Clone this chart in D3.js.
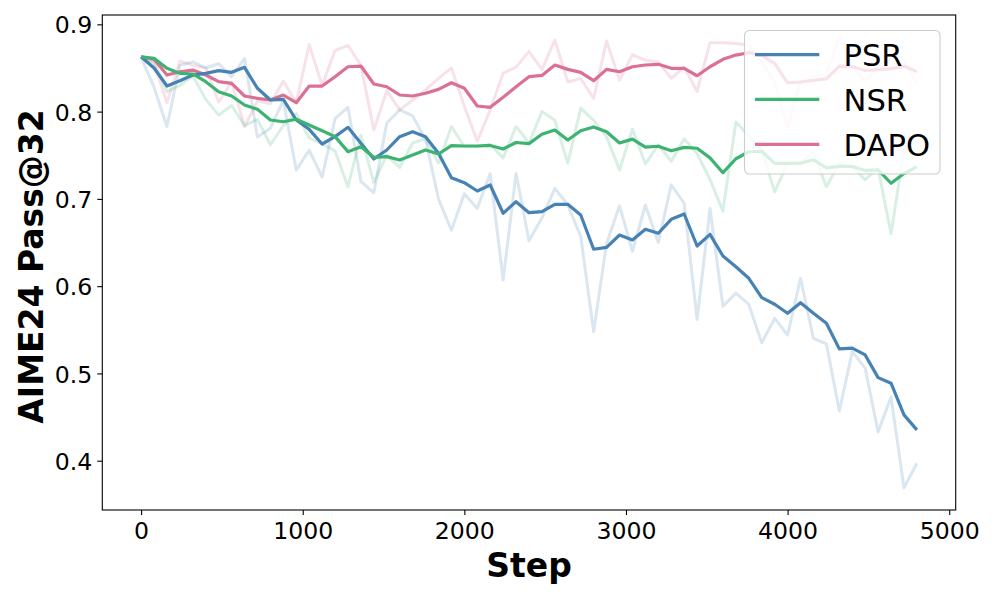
<!DOCTYPE html>
<html>
<head>
<meta charset="utf-8">
<script src="https://cdn.jsdelivr.net/npm/d3@7"></script>
<style>
  html, body { margin: 0; padding: 0; background: #fff; }
  svg { display: block; }
  text { font-family: "DejaVu Sans", sans-serif; }
</style>
</head>
<body>
<svg id="chart" width="996" height="598"></svg>
<script>
const steps = [0,80,160,240,320,400,480,560,640,720,800,880,960,1040,1120,1200,1280,1360,1440,1520,
  1600,1680,1760,1840,1920,2000,2080,2160,2240,2320,2400,2480,2560,2640,2720,2800,2880,2960,3040,3120,
  3200,3280,3360,3440,3520,3600,3680,3760,3840,3920,4000,4080,4160,4240,4320,4400,4480,4560,4640,4720,4800];

const psrRaw = [0.862,0.828,0.783,0.853,0.857,0.850,0.855,0.840,0.861,0.771,
  0.781,0.813,0.733,0.756,0.725,0.792,0.805,0.720,0.707,0.787,
  0.802,0.795,0.768,0.700,0.664,0.706,0.689,0.729,0.607,0.729,
  0.652,0.678,0.712,0.693,0.657,0.548,0.649,0.692,0.640,0.693,
  0.650,0.716,0.695,0.562,0.689,0.577,0.592,0.579,0.535,0.563,
  0.544,0.609,0.540,0.534,0.457,0.525,0.506,0.433,0.473,0.369,0.397];
const psrSmooth = [0.8629,0.8500,0.8293,0.8354,0.8419,0.8438,0.8469,0.8450,0.8507,0.8267,
  0.8133,0.8140,0.7904,0.7797,0.7629,0.7713,0.7820,0.7637,0.7457,0.7560,
  0.7713,0.7770,0.7713,0.7522,0.7243,0.7186,0.7090,0.7159,0.6835,0.6968,
  0.6842,0.6853,0.6938,0.6938,0.6815,0.6423,0.6445,0.6586,0.6529,0.6651,
  0.6606,0.6766,0.6827,0.6460,0.6594,0.6346,0.6223,0.6090,0.5869,0.5793,
  0.5689,0.5811,0.5689,0.5575,0.5281,0.5289,0.5212,0.4952,0.4888,0.4525,0.4353];

const nsrRaw = [0.862,0.857,0.823,0.830,0.841,0.814,0.796,0.807,0.784,0.791,
  0.762,0.784,0.798,0.770,0.763,0.755,0.714,0.773,0.719,0.750,
  0.736,0.764,0.769,0.741,0.783,0.760,0.760,0.762,0.747,0.783,
  0.764,0.800,0.790,0.741,0.804,0.790,0.771,0.733,0.780,0.740,
  0.762,0.743,0.769,0.752,0.722,0.686,0.788,0.772,0.756,0.708,
  0.741,0.741,0.754,0.714,0.741,0.737,0.722,0.735,0.660,0.756,0.765];
const nsrSmooth = [0.8629,0.8610,0.8496,0.8438,0.8431,0.8343,0.8228,0.8179,0.8076,0.8026,
  0.7904,0.7884,0.7912,0.7847,0.7781,0.7713,0.7541,0.7598,0.7476,0.7484,
  0.7446,0.7503,0.7560,0.7514,0.7610,0.7606,0.7606,0.7612,0.7572,0.7646,
  0.7633,0.7740,0.7789,0.7675,0.7781,0.7824,0.7770,0.7641,0.7685,0.7594,
  0.7603,0.7552,0.7590,0.7580,0.7470,0.7300,0.7460,0.7540,0.7546,0.7406,
  0.7407,0.7408,0.7448,0.7356,0.7372,0.7371,0.7326,0.7333,0.7179,0.7290,0.7370];

const dapoRaw = [0.862,0.855,0.810,0.858,0.853,0.850,0.811,0.834,0.783,0.812,
  0.809,0.835,0.810,0.877,0.830,0.870,0.876,0.853,0.779,0.824,
  0.802,0.813,0.825,0.838,0.850,0.806,0.766,0.802,0.844,0.851,
  0.869,0.848,0.882,0.834,0.838,0.815,0.881,0.836,0.865,0.859,
  0.857,0.838,0.851,0.823,0.879,0.879,0.878,0.876,0.857,0.834,
  0.781,0.836,0.840,0.842,0.886,0.851,0.836,0.850,0.851,0.859,0.832];
const dapoSmooth = [0.8629,0.8599,0.8419,0.8457,0.8476,0.8419,0.8343,0.8324,0.8179,0.8152,
  0.8133,0.8190,0.8102,0.8293,0.8293,0.8400,0.8514,0.8522,0.8316,0.8285,
  0.8190,0.8179,0.8210,0.8255,0.8331,0.8267,0.8064,0.8049,0.8164,0.8285,
  0.8400,0.8415,0.8534,0.8484,0.8450,0.8354,0.8484,0.8457,0.8514,0.8534,
  0.8542,0.8496,0.8496,0.8411,0.8514,0.8599,0.8648,0.8675,0.8644,0.8553,
  0.8330,0.8339,0.8357,0.8376,0.8521,0.8518,0.8471,0.8480,0.8489,0.8520,0.8460];

const seriesNames = ["PSR", "NSR", "DAPO"];
const seriesColors = ["#4682b4", "#3cb371", "#db7093"];
const xTicks = [0, 1000, 2000, 3000, 4000, 5000];
const yTicks = [0.4, 0.5, 0.6, 0.7, 0.8, 0.9];
const xLabel = "Step";
const yLabel = "AIME24 Pass@32";

const series = [
  { name: seriesNames[0], color: seriesColors[0], raw: psrRaw, smooth: psrSmooth },
  { name: seriesNames[1], color: seriesColors[1], raw: nsrRaw, smooth: nsrSmooth },
  { name: seriesNames[2], color: seriesColors[2], raw: dapoRaw, smooth: dapoSmooth }
];

const svg = d3.select("#chart");
svg.append("rect").attr("width", 996).attr("height", 598).attr("fill", "#fff");

const L = 102.3, R = 955.7, T = 15, B = 510;
const x = d3.scaleLinear().domain([-240, 5040]).range([L, R]);
const y = d3.scaleLinear().domain([0.3435, 0.9107]).range([B, T]);

const plot = svg.append("g");
const line = (vals) => d3.line().x((d, i) => x(steps[i])).y(d => y(d))(vals);

const drawOrder = [2, 0, 1];
drawOrder.forEach(k => {
  const s = series[k];
  plot.append("path").attr("d", line(s.raw)).attr("fill", "none")
    .attr("stroke", s.color).attr("stroke-opacity", 0.2).attr("stroke-width", 3)
    .attr("stroke-linejoin", "round").attr("stroke-linecap", "butt");
});
drawOrder.forEach(k => {
  const s = series[k];
  plot.append("path").attr("d", line(s.smooth)).attr("fill", "none")
    .attr("stroke", s.color).attr("stroke-width", 3.2)
    .attr("stroke-linejoin", "round").attr("stroke-linecap", "butt");
});

const tickFont = 23.6;
const xAxis = d3.axisBottom(x).tickValues(xTicks).tickFormat(d3.format("d")).tickSize(5).tickPadding(7);
const yAxis = d3.axisLeft(y).tickValues(yTicks).tickFormat(d3.format(".1f")).tickSize(5).tickPadding(5);

const gx = svg.append("g").attr("transform", `translate(0,${B})`).call(xAxis);
const gy = svg.append("g").attr("transform", `translate(${L},0)`).call(yAxis);
[gx, gy].forEach(g => {
  g.select(".domain").remove();
  g.selectAll(".tick line").attr("stroke", "#000").attr("stroke-width", 1.1);
  g.selectAll(".tick text").attr("font-size", tickFont).attr("fill", "#000")
    .attr("font-family", "DejaVu Sans");
});
gx.selectAll(".tick text").attr("dy", null).attr("y", 29.3);
gy.selectAll(".tick text").attr("dy", null).attr("y", 8.6);

svg.append("rect").attr("x", L).attr("y", T).attr("width", R - L).attr("height", B - T)
  .attr("fill", "none").attr("stroke", "#000").attr("stroke-width", 1.1);

svg.append("text").attr("x", (L + R) / 2).attr("y", 577).attr("text-anchor", "middle")
  .attr("font-size", 33).attr("font-weight", "bold").attr("fill", "#000").text(xLabel);
svg.append("text").attr("transform", `translate(43,${(T + B) / 2 + 4}) rotate(-90)`)
  .attr("text-anchor", "middle").attr("font-size", 33).attr("font-weight", "bold")
  .attr("fill", "#000").text(yLabel);

const lg = svg.append("g");
lg.append("rect").attr("x", 744.5).attr("y", 30.5).attr("width", 195.5).attr("height", 143.5)
  .attr("rx", 5).attr("ry", 5).attr("fill", "#fff").attr("fill-opacity", 0.8)
  .attr("stroke", "#cccccc").attr("stroke-width", 1.1);
const legendYs = [54.7, 99.3, 144.3];
series.forEach((s, i) => {
  lg.append("line").attr("x1", 755).attr("x2", 819.3).attr("y1", legendYs[i]).attr("y2", legendYs[i])
    .attr("stroke", s.color).attr("stroke-width", 3.2);
  lg.append("text").attr("x", 843.5).attr("y", legendYs[i] + 11.2).attr("font-size", 30.6)
    .attr("fill", "#000").text(s.name);
});
</script>
</body>
</html>
